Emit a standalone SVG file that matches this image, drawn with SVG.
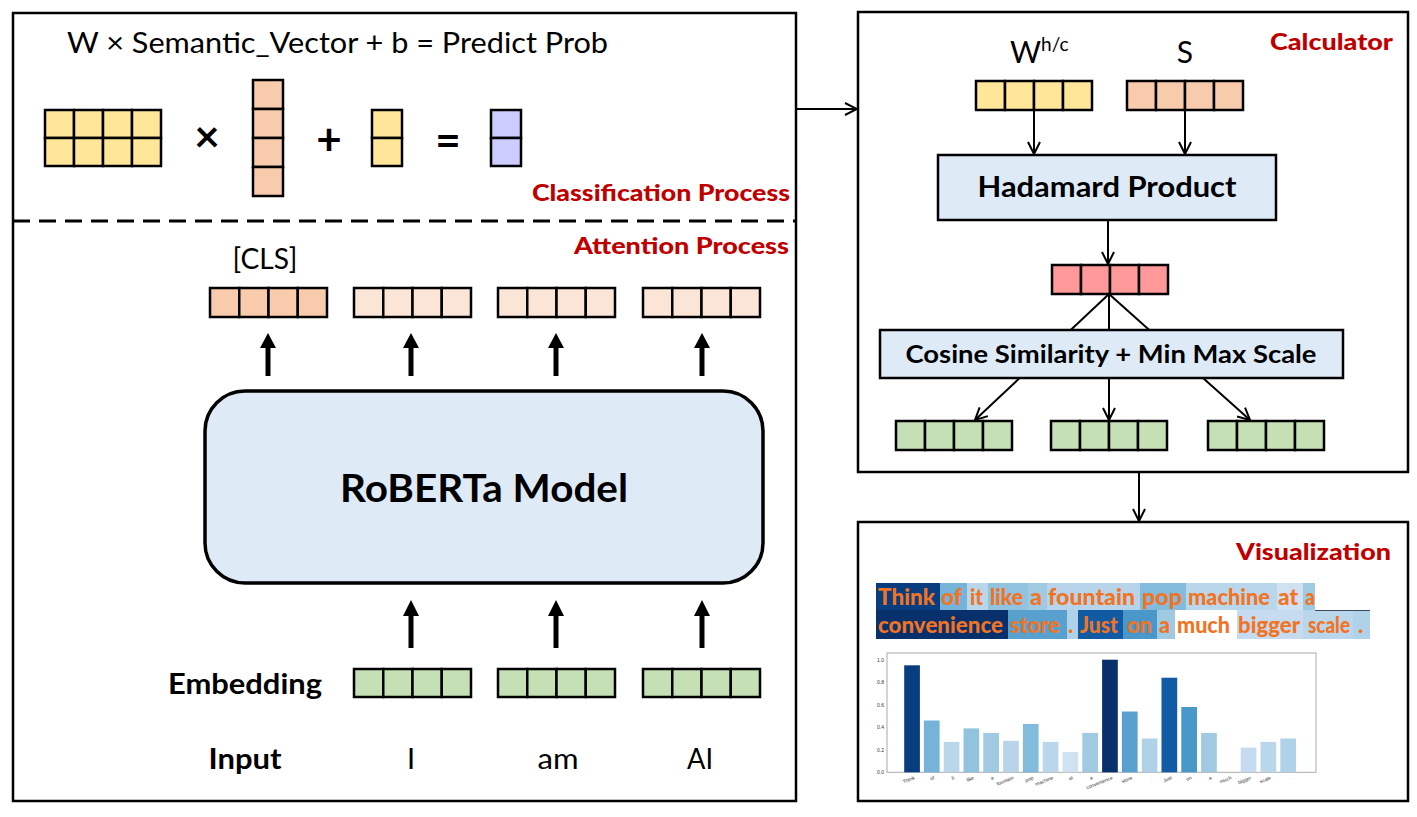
<svg xmlns="http://www.w3.org/2000/svg" width="1417" height="817" viewBox="0 0 1417 817">
<defs>
<style>
.panel{fill:#fff;stroke:#000;stroke-width:2.5}
.c{stroke:#000;stroke-width:2.5}
.y{fill:#FFE699}.s{fill:#F8CBAD}.ls{fill:#FBE5D6}.g{fill:#C5E0B4}.p{fill:#FF9999}.v{fill:#CCCCFF}
.box{fill:#DEEBF7;stroke:#000;stroke-width:2.5}
.t{font-family:Lato,"Open Sans","Liberation Sans",sans-serif;fill:#000}
.b{font-weight:bold}
.red{font-family:Lato,"Open Sans","Liberation Sans",sans-serif;font-weight:900;fill:#C00000;font-size:23px;text-anchor:end}
.hl{font-family:Lato,"Open Sans","Liberation Sans",sans-serif;font-weight:900;fill:#F07424;font-size:22px}
.thin{stroke:#000;stroke-width:2;fill:none}
.thick{stroke:#000;stroke-width:5;fill:none}
.tick{font-family:"Liberation Sans",sans-serif;font-size:5px;fill:#333}
</style>
<marker id="open" viewBox="0 0 14 14" refX="13" refY="7" markerWidth="14" markerHeight="14" markerUnits="userSpaceOnUse" orient="auto">
<path d="M1,1 L13,7 L1,13" fill="none" stroke="#000" stroke-width="2"/>
</marker>
</defs>
<rect width="1417" height="817" fill="#fff"/>

<g id="panels">
<rect id="left-panel" class="panel" x="13" y="13" width="783" height="788"/>
<line x1="13" y1="221" x2="796" y2="221" stroke="#000" stroke-width="3" stroke-dasharray="17,9"/>
<rect id="calc-panel" class="panel" x="858" y="12" width="550" height="460"/>
<rect id="vis-panel" class="panel" x="858" y="522" width="550" height="279"/>
</g>

<g id="connectors">
<line class="thin" x1="797" y1="109" x2="857" y2="109" marker-end="url(#open)"/>
<line class="thin" x1="1139" y1="473" x2="1139" y2="521" marker-end="url(#open)"/>
<line class="thin" x1="1034" y1="110" x2="1034" y2="154" marker-end="url(#open)"/>
<line class="thin" x1="1185" y1="110" x2="1185" y2="154" marker-end="url(#open)"/>
<line class="thin" x1="1108" y1="221" x2="1108" y2="264" marker-end="url(#open)"/>
<line class="thin" x1="1109" y1="294" x2="975" y2="420" marker-end="url(#open)"/>
<line class="thin" x1="1109" y1="294" x2="1109" y2="420" marker-end="url(#open)"/>
<line class="thin" x1="1109" y1="294" x2="1250" y2="420" marker-end="url(#open)"/>
<g id="up-arrows">
<line class="thick" x1="268" y1="376" x2="268" y2="346"/><polygon points="260,348 276,348 268,333"/>
<line class="thick" x1="411" y1="376" x2="411" y2="346"/><polygon points="403,348 419,348 411,333"/>
<line class="thick" x1="556" y1="376" x2="556" y2="346"/><polygon points="548,348 564,348 556,333"/>
<line class="thick" x1="702" y1="376" x2="702" y2="346"/><polygon points="694,348 710,348 702,333"/>
<line class="thick" x1="411" y1="648" x2="411" y2="614"/><polygon points="403,616 419,616 411,600"/>
<line class="thick" x1="556" y1="648" x2="556" y2="614"/><polygon points="548,616 564,616 556,600"/>
<line class="thick" x1="702" y1="648" x2="702" y2="614"/><polygon points="694,616 710,616 702,600"/>
</g>
</g>

<g id="formula">
<text class="t" x="67" y="53" font-size="28" textLength="541" lengthAdjust="spacingAndGlyphs">W × Semantic_Vector + b = Predict Prob</text>
<g id="matrix-W">
<rect class="c y" x="45" y="110" width="29" height="28"/><rect class="c y" x="74" y="110" width="29" height="28"/><rect class="c y" x="103" y="110" width="29" height="28"/><rect class="c y" x="132" y="110" width="29" height="28"/>
<rect class="c y" x="45" y="138" width="29" height="28"/><rect class="c y" x="74" y="138" width="29" height="28"/><rect class="c y" x="103" y="138" width="29" height="28"/><rect class="c y" x="132" y="138" width="29" height="28"/>
</g>
<text class="t b" x="207" y="152" font-size="44" text-anchor="middle">×</text>
<g id="semantic-vector">
<rect class="c s" x="253" y="80" width="30" height="29"/><rect class="c s" x="253" y="109" width="30" height="29"/><rect class="c s" x="253" y="138" width="30" height="29"/><rect class="c s" x="253" y="167" width="30" height="29"/>
</g>
<text class="t b" x="329" y="155" font-size="44" text-anchor="middle">+</text>
<g id="bias-b">
<rect class="c y" x="372" y="110" width="30" height="28"/><rect class="c y" x="372" y="138" width="30" height="28"/>
</g>
<text class="t b" x="448" y="156" font-size="44" text-anchor="middle">=</text>
<g id="predict-prob">
<rect class="c v" x="491" y="110" width="30" height="28"/><rect class="c v" x="491" y="138" width="30" height="28"/>
</g>
<text class="red" x="790" y="201" textLength="258" lengthAdjust="spacingAndGlyphs">Classification Process</text>
</g>

<g id="attention">
<text class="red" x="789" y="254" textLength="215" lengthAdjust="spacingAndGlyphs">Attention Process</text>
<text class="t" x="265" y="269" font-size="28" text-anchor="middle" textLength="65" lengthAdjust="spacingAndGlyphs">[CLS]</text>
<g id="out-cls">
<rect class="c s" x="210" y="288" width="29.25" height="29"/><rect class="c s" x="239.25" y="288" width="29.25" height="29"/><rect class="c s" x="268.5" y="288" width="29.25" height="29"/><rect class="c s" x="297.75" y="288" width="29.25" height="29"/>
</g>
<g id="out-1">
<rect class="c ls" x="354" y="288" width="29.25" height="29"/><rect class="c ls" x="383.25" y="288" width="29.25" height="29"/><rect class="c ls" x="412.5" y="288" width="29.25" height="29"/><rect class="c ls" x="441.75" y="288" width="29.25" height="29"/>
</g>
<g id="out-2">
<rect class="c ls" x="498" y="288" width="29.25" height="29"/><rect class="c ls" x="527.25" y="288" width="29.25" height="29"/><rect class="c ls" x="556.5" y="288" width="29.25" height="29"/><rect class="c ls" x="585.75" y="288" width="29.25" height="29"/>
</g>
<g id="out-3">
<rect class="c ls" x="643" y="288" width="29.25" height="29"/><rect class="c ls" x="672.25" y="288" width="29.25" height="29"/><rect class="c ls" x="701.5" y="288" width="29.25" height="29"/><rect class="c ls" x="730.75" y="288" width="29.25" height="29"/>
</g>
</g>

<g id="roberta">
<rect x="205" y="391" width="558" height="192" rx="40" fill="#DEEBF7" stroke="#000" stroke-width="3.5"/>
<text class="t b" x="484" y="502" font-size="39" text-anchor="middle" textLength="288" lengthAdjust="spacingAndGlyphs">RoBERTa Model</text>
</g>

<g id="embedding">
<text class="t b" x="168" y="694" font-size="28" textLength="154" lengthAdjust="spacingAndGlyphs">Embedding</text>
<g id="emb-1">
<rect class="c g" x="354" y="669" width="29.25" height="28"/><rect class="c g" x="383.25" y="669" width="29.25" height="28"/><rect class="c g" x="412.5" y="669" width="29.25" height="28"/><rect class="c g" x="441.75" y="669" width="29.25" height="28"/>
</g>
<g id="emb-2">
<rect class="c g" x="498" y="669" width="29.25" height="28"/><rect class="c g" x="527.25" y="669" width="29.25" height="28"/><rect class="c g" x="556.5" y="669" width="29.25" height="28"/><rect class="c g" x="585.75" y="669" width="29.25" height="28"/>
</g>
<g id="emb-3">
<rect class="c g" x="643" y="669" width="29.25" height="28"/><rect class="c g" x="672.25" y="669" width="29.25" height="28"/><rect class="c g" x="701.5" y="669" width="29.25" height="28"/><rect class="c g" x="730.75" y="669" width="29.25" height="28"/>
</g>
</g>

<g id="input">
<text class="t b" x="245" y="769" font-size="29" text-anchor="middle" textLength="73" lengthAdjust="spacingAndGlyphs">Input</text>
<text class="t" x="411" y="769" font-size="29" text-anchor="middle">I</text>
<text class="t" x="558" y="769" font-size="29" text-anchor="middle" textLength="41" lengthAdjust="spacingAndGlyphs">am</text>
<text class="t" x="700" y="769" font-size="29" text-anchor="middle" textLength="26" lengthAdjust="spacingAndGlyphs">AI</text>
</g>

<g id="calculator">
<text class="red" x="1393" y="50" textLength="123" lengthAdjust="spacingAndGlyphs">Calculator</text>
<text class="t" x="1010" y="63" font-size="30">W<tspan font-size="19" dy="-12">h/c</tspan></text>
<text class="t" x="1185" y="63" font-size="30" text-anchor="middle">S</text>
<g id="vec-W">
<rect class="c y" x="976" y="81" width="29" height="29"/><rect class="c y" x="1005" y="81" width="29" height="29"/><rect class="c y" x="1034" y="81" width="29" height="29"/><rect class="c y" x="1063" y="81" width="29" height="29"/>
</g>
<g id="vec-S">
<rect class="c s" x="1127" y="81" width="29" height="29"/><rect class="c s" x="1156" y="81" width="29" height="29"/><rect class="c s" x="1185" y="81" width="29" height="29"/><rect class="c s" x="1214" y="81" width="29" height="29"/>
</g>
<g id="hadamard">
<rect class="box" x="938" y="155" width="338" height="65"/>
<text class="t b" x="1107" y="197" font-size="28" text-anchor="middle" textLength="259" lengthAdjust="spacingAndGlyphs">Hadamard Product</text>
</g>
<g id="vec-H">
<rect class="c p" x="1052" y="265" width="29" height="29"/><rect class="c p" x="1081" y="265" width="29" height="29"/><rect class="c p" x="1110" y="265" width="29" height="29"/><rect class="c p" x="1139" y="265" width="29" height="29"/>
</g>
<g id="cosine">
<rect class="box" x="880" y="330" width="463" height="48"/>
<text class="t b" x="1111" y="363" font-size="25" text-anchor="middle" textLength="411" lengthAdjust="spacingAndGlyphs">Cosine Similarity + Min Max Scale</text>
</g>
<g id="sim-1">
<rect class="c g" x="896" y="421" width="29" height="29"/><rect class="c g" x="925" y="421" width="29" height="29"/><rect class="c g" x="954" y="421" width="29" height="29"/><rect class="c g" x="983" y="421" width="29" height="29"/>
</g>
<g id="sim-2">
<rect class="c g" x="1051" y="421" width="29" height="29"/><rect class="c g" x="1080" y="421" width="29" height="29"/><rect class="c g" x="1109" y="421" width="29" height="29"/><rect class="c g" x="1138" y="421" width="29" height="29"/>
</g>
<g id="sim-3">
<rect class="c g" x="1208" y="421" width="29" height="29"/><rect class="c g" x="1237" y="421" width="29" height="29"/><rect class="c g" x="1266" y="421" width="29" height="29"/><rect class="c g" x="1295" y="421" width="29" height="29"/>
</g>
</g>

<g id="visualization">
<text class="red" x="1391" y="560" textLength="155" lengthAdjust="spacingAndGlyphs">Visualization</text>
<g id="highlight">
<rect x="876" y="583" width="64" height="27" fill="#083d7f"/>
<rect x="940" y="583" width="27" height="27" fill="#75b4d8"/>
<rect x="967" y="583" width="21" height="27" fill="#bad6eb"/>
<rect x="988" y="583" width="40" height="27" fill="#91c3de"/>
<rect x="1028" y="583" width="19" height="27" fill="#9fcae1"/>
<rect x="1047" y="583" width="93" height="27" fill="#b7d4ea"/>
<rect x="1140" y="583" width="46" height="27" fill="#82bbdb"/>
<rect x="1186" y="583" width="91" height="27" fill="#bad6eb"/>
<rect x="1277" y="583" width="26" height="27" fill="#d0e1f2"/>
<rect x="1303" y="583" width="12" height="27" fill="#9fcae1"/>
<rect x="876" y="610" width="132" height="29" fill="#08306b"/>
<rect x="1008" y="610" width="59" height="29" fill="#58a1cf"/>
<rect x="1067" y="610" width="11" height="29" fill="#b0d2e8"/>
<rect x="1078" y="610" width="45" height="29" fill="#105ba4"/>
<rect x="1123" y="610" width="34" height="29" fill="#4a98c9"/>
<rect x="1157" y="610" width="18" height="29" fill="#9fcae1"/>
<rect x="1175" y="610" width="62" height="29" fill="#ffffff"/>
<rect x="1237" y="610" width="66" height="29" fill="#c6dbef"/>
<rect x="1303" y="610" width="50" height="29" fill="#bad6eb"/>
<rect x="1353" y="610" width="17" height="29" fill="#b0d2e8"/>
<line x1="1315" y1="610.5" x2="1370" y2="610.5" stroke="#3b4b5e" stroke-width="1"/>
<text class="hl" x="878" y="605" textLength="57" lengthAdjust="spacingAndGlyphs">Think</text>
<text class="hl" x="941" y="605" textLength="21" lengthAdjust="spacingAndGlyphs">of</text>
<text class="hl" x="970" y="605" textLength="13" lengthAdjust="spacingAndGlyphs">it</text>
<text class="hl" x="990" y="605" textLength="33" lengthAdjust="spacingAndGlyphs">like</text>
<text class="hl" x="1030" y="605" textLength="12" lengthAdjust="spacingAndGlyphs">a</text>
<text class="hl" x="1048" y="605" textLength="87" lengthAdjust="spacingAndGlyphs">fountain</text>
<text class="hl" x="1142" y="605" textLength="40" lengthAdjust="spacingAndGlyphs">pop</text>
<text class="hl" x="1188" y="605" textLength="82" lengthAdjust="spacingAndGlyphs">machine</text>
<text class="hl" x="1278" y="605" textLength="20" lengthAdjust="spacingAndGlyphs">at</text>
<text class="hl" x="1305" y="605" textLength="10" lengthAdjust="spacingAndGlyphs">a</text>
<text class="hl" x="878" y="633" textLength="125" lengthAdjust="spacingAndGlyphs">convenience</text>
<text class="hl" x="1010" y="633" textLength="50" lengthAdjust="spacingAndGlyphs">store</text>
<text class="hl" x="1068" y="633">.</text>
<text class="hl" x="1080" y="633" textLength="38" lengthAdjust="spacingAndGlyphs">Just</text>
<text class="hl" x="1127" y="633" textLength="25" lengthAdjust="spacingAndGlyphs">on</text>
<text class="hl" x="1159" y="633" textLength="11" lengthAdjust="spacingAndGlyphs">a</text>
<text class="hl" x="1177" y="633" textLength="53" lengthAdjust="spacingAndGlyphs">much</text>
<text class="hl" x="1238" y="633" textLength="62" lengthAdjust="spacingAndGlyphs">bigger</text>
<text class="hl" x="1308" y="633" textLength="42" lengthAdjust="spacingAndGlyphs">scale</text>
<text class="hl" x="1358" y="633">.</text>
</g>
<g id="bar-chart">
<rect x="887" y="653" width="429" height="119.3" fill="#fff" stroke="#aaa" stroke-width="1"/>
<g id="bars">
<rect x="904.2" y="665.3" width="15.7" height="107" fill="#083d7f"/>
<rect x="923.9" y="720.5" width="15.7" height="51.8" fill="#75b4d8"/>
<rect x="943.7" y="741.9" width="15.7" height="30.4" fill="#bad6eb"/>
<rect x="963.5" y="728.4" width="15.7" height="43.9" fill="#91c3de"/>
<rect x="983.3" y="732.9" width="15.7" height="39.4" fill="#9fcae1"/>
<rect x="1003.1" y="740.8" width="15.7" height="31.5" fill="#b7d4ea"/>
<rect x="1022.9" y="723.9" width="15.7" height="48.4" fill="#82bbdb"/>
<rect x="1042.7" y="741.9" width="15.7" height="30.4" fill="#bad6eb"/>
<rect x="1062.5" y="752" width="15.7" height="20.3" fill="#d0e1f2"/>
<rect x="1082.3" y="732.9" width="15.7" height="39.4" fill="#9fcae1"/>
<rect x="1102.1" y="659.7" width="15.7" height="112.6" fill="#08306b"/>
<rect x="1121.9" y="711.5" width="15.7" height="60.8" fill="#58a1cf"/>
<rect x="1141.7" y="738.5" width="15.7" height="33.8" fill="#b0d2e8"/>
<rect x="1161.5" y="677.7" width="15.7" height="94.6" fill="#105ba4"/>
<rect x="1181.3" y="707" width="15.7" height="65.3" fill="#4a98c9"/>
<rect x="1201.1" y="732.9" width="15.7" height="39.4" fill="#9fcae1"/>
<rect x="1240.7" y="747.5" width="15.7" height="24.8" fill="#c6dbef"/>
<rect x="1260.5" y="741.9" width="15.7" height="30.4" fill="#bad6eb"/>
<rect x="1280.3" y="738.5" width="15.7" height="33.8" fill="#b0d2e8"/>
</g>
<g id="yticks" text-anchor="end">
<text class="tick" x="884" y="774">0.0</text>
<text class="tick" x="884" y="751.5">0.2</text>
<text class="tick" x="884" y="729">0.4</text>
<text class="tick" x="884" y="706.5">0.6</text>
<text class="tick" x="884" y="684">0.8</text>
<text class="tick" x="884" y="661.5">1.0</text>
</g>
<g id="xticks" text-anchor="end">
<text class="tick" transform="translate(915,779) rotate(-22)">Think</text>
<text class="tick" transform="translate(934.8,779) rotate(-22)">of</text>
<text class="tick" transform="translate(954.6,779) rotate(-22)">it</text>
<text class="tick" transform="translate(974.4,779) rotate(-22)">like</text>
<text class="tick" transform="translate(994.2,779) rotate(-22)">a</text>
<text class="tick" transform="translate(1014,779) rotate(-22)">fountain</text>
<text class="tick" transform="translate(1033.8,779) rotate(-22)">pop</text>
<text class="tick" transform="translate(1053.6,779) rotate(-22)">machine</text>
<text class="tick" transform="translate(1073.4,779) rotate(-22)">at</text>
<text class="tick" transform="translate(1093.2,779) rotate(-22)">a</text>
<text class="tick" transform="translate(1113,779) rotate(-22)">convenience</text>
<text class="tick" transform="translate(1132.8,779) rotate(-22)">store</text>
<text class="tick" transform="translate(1152.6,779) rotate(-22)">.</text>
<text class="tick" transform="translate(1172.4,779) rotate(-22)">Just</text>
<text class="tick" transform="translate(1192.2,779) rotate(-22)">on</text>
<text class="tick" transform="translate(1212,779) rotate(-22)">a</text>
<text class="tick" transform="translate(1231.8,779) rotate(-22)">much</text>
<text class="tick" transform="translate(1251.6,779) rotate(-22)">bigger</text>
<text class="tick" transform="translate(1271.4,779) rotate(-22)">scale</text>
<text class="tick" transform="translate(1291.2,779) rotate(-22)">.</text>
</g>
</g>
</g>
</svg>
